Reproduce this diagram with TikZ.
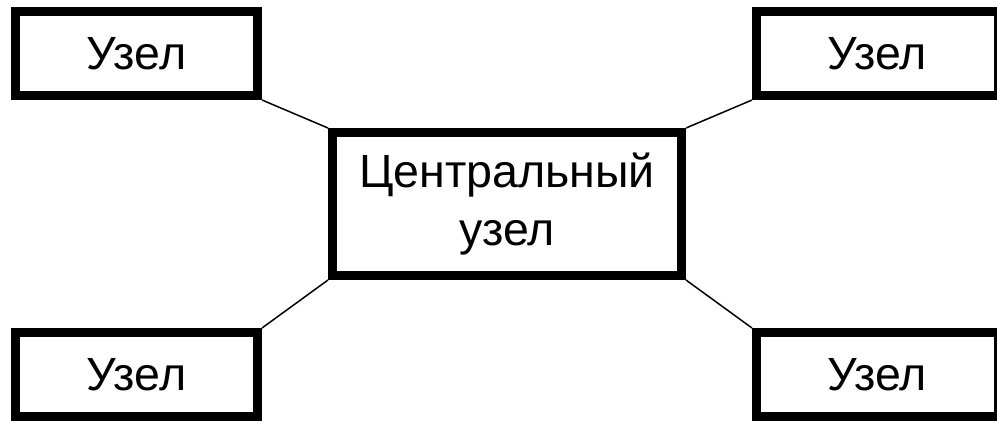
\documentclass[tikz,border=0pt]{standalone}
\usepackage{fontspec}
\setmainfont{Liberation Sans}
\usetikzlibrary{matrix,positioning}

\begin{document}
\begin{tikzpicture}[
x=0.02cm,y=-0.02cm,
place/.style={
rectangle,
line width=0.18cm,
draw=black,
fill=white,
inner sep=0pt,
minimum width=4.84cm,
minimum height=1.68cm,
font=\fontsize{26.5}{33}\selectfont
},
hubplace/.style={
place,
align=center,
minimum width=6.98cm,
minimum height=2.86cm
},
link/.style={
line width=0.03cm,
draw=black
}]

\useasboundingbox (0,0) rectangle (997,420);

\matrix[row sep=0.56cm, column sep=1.32cm, anchor=center] (mat) at (507,214) {
\node [place] (nw) {Узел}; & & \node [place] (ne) {Узел}; \\
& \node [hubplace] (hub) {Центральный\\узел}; & \\[0.4cm]
\node [place] (sw) {Узел}; & & \node [place] (se) {Узел}; \\
};

\draw[link] (nw.south east) -- (hub.north west);
\draw[link] (ne.south west) -- (hub.north east);
\draw[link] (sw.north east) -- (hub.south west);
\draw[link] (se.north west) -- (hub.south east);

\end{tikzpicture}
\end{document}
